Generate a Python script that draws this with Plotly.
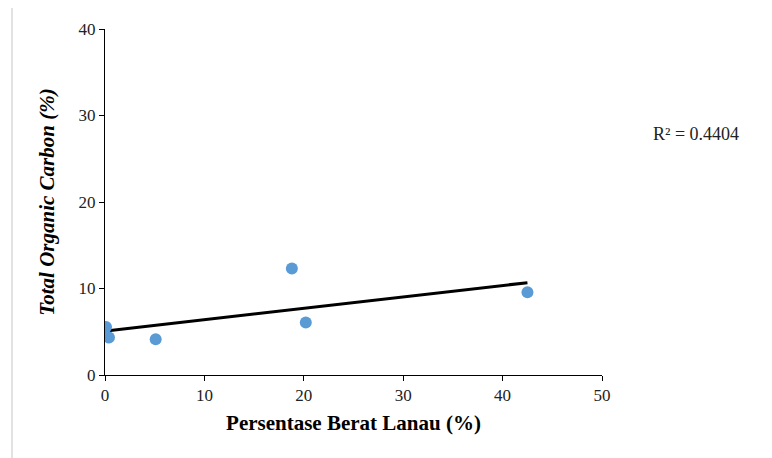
import numpy as np
import plotly.graph_objects as go

silt_pct = [0.1, 0.4, 5.1, 18.8, 20.2, 42.5]
toc_pct = [5.55, 4.33, 4.14, 12.3, 6.08, 9.57]
x_ticks = [0, 10, 20, 30, 40, 50]
y_ticks = [0, 10, 20, 30, 40]
r2_label = "R² = 0.4404"

slope, intercept = np.polyfit(silt_pct, toc_pct, 1)
line_x = [min(silt_pct), max(silt_pct)]
line_y = [slope * v + intercept for v in line_x]

fig = go.Figure()
fig.add_trace(go.Scatter(x=line_x, y=line_y, mode="lines",
                         line=dict(color="black", width=3), showlegend=False))
fig.add_trace(go.Scatter(x=silt_pct, y=toc_pct, mode="markers",
                         marker=dict(color="#5B9BD5", size=12), showlegend=False))

serif = "Liberation Serif, Times New Roman, serif"
fig.update_layout(
    width=772, height=458,
    margin=dict(l=97, r=178, t=19, b=91),
    paper_bgcolor="white", plot_bgcolor="white",
    font=dict(family=serif, size=17, color="black"),
    xaxis=dict(range=[0, 50], tickvals=x_ticks, showgrid=False, zeroline=False,
               showline=True, linecolor="black", linewidth=1,
               ticks="outside", ticklen=5, tickcolor="black",
               tickfont=dict(family=serif, size=17, color="#222"),
               title=dict(text="<b>Persentase Berat Lanau (%)</b>",
                          font=dict(family=serif, size=21), standoff=10)),
    yaxis=dict(range=[0, 40], tickvals=y_ticks, showgrid=False, zeroline=False,
               showline=True, linecolor="black", linewidth=1,
               ticks="outside", ticklen=5, tickcolor="black",
               tickfont=dict(family=serif, size=17, color="#222"),
               title=dict(text="<b><i>Total Organic Carbon (%)</i></b>",
                          font=dict(family=serif, size=21), standoff=18)),
    shapes=[dict(type="rect", xref="paper", yref="paper",
                 x0=(12 - 105) / 497, x1=1.5, y0=-0.5, y1=1 + 24 / 348,
                 line=dict(color="#D9D9D9", width=1.5), layer="below")],
    annotations=[dict(text=r2_label, xref="paper", yref="paper",
                      x=(696 - 105) / 497, y=(375 - 133) / 348,
                      xanchor="center", yanchor="middle",
                      showarrow=False, font=dict(family=serif, size=18, color="#222"))],
)

fig.write_html("out.html")
